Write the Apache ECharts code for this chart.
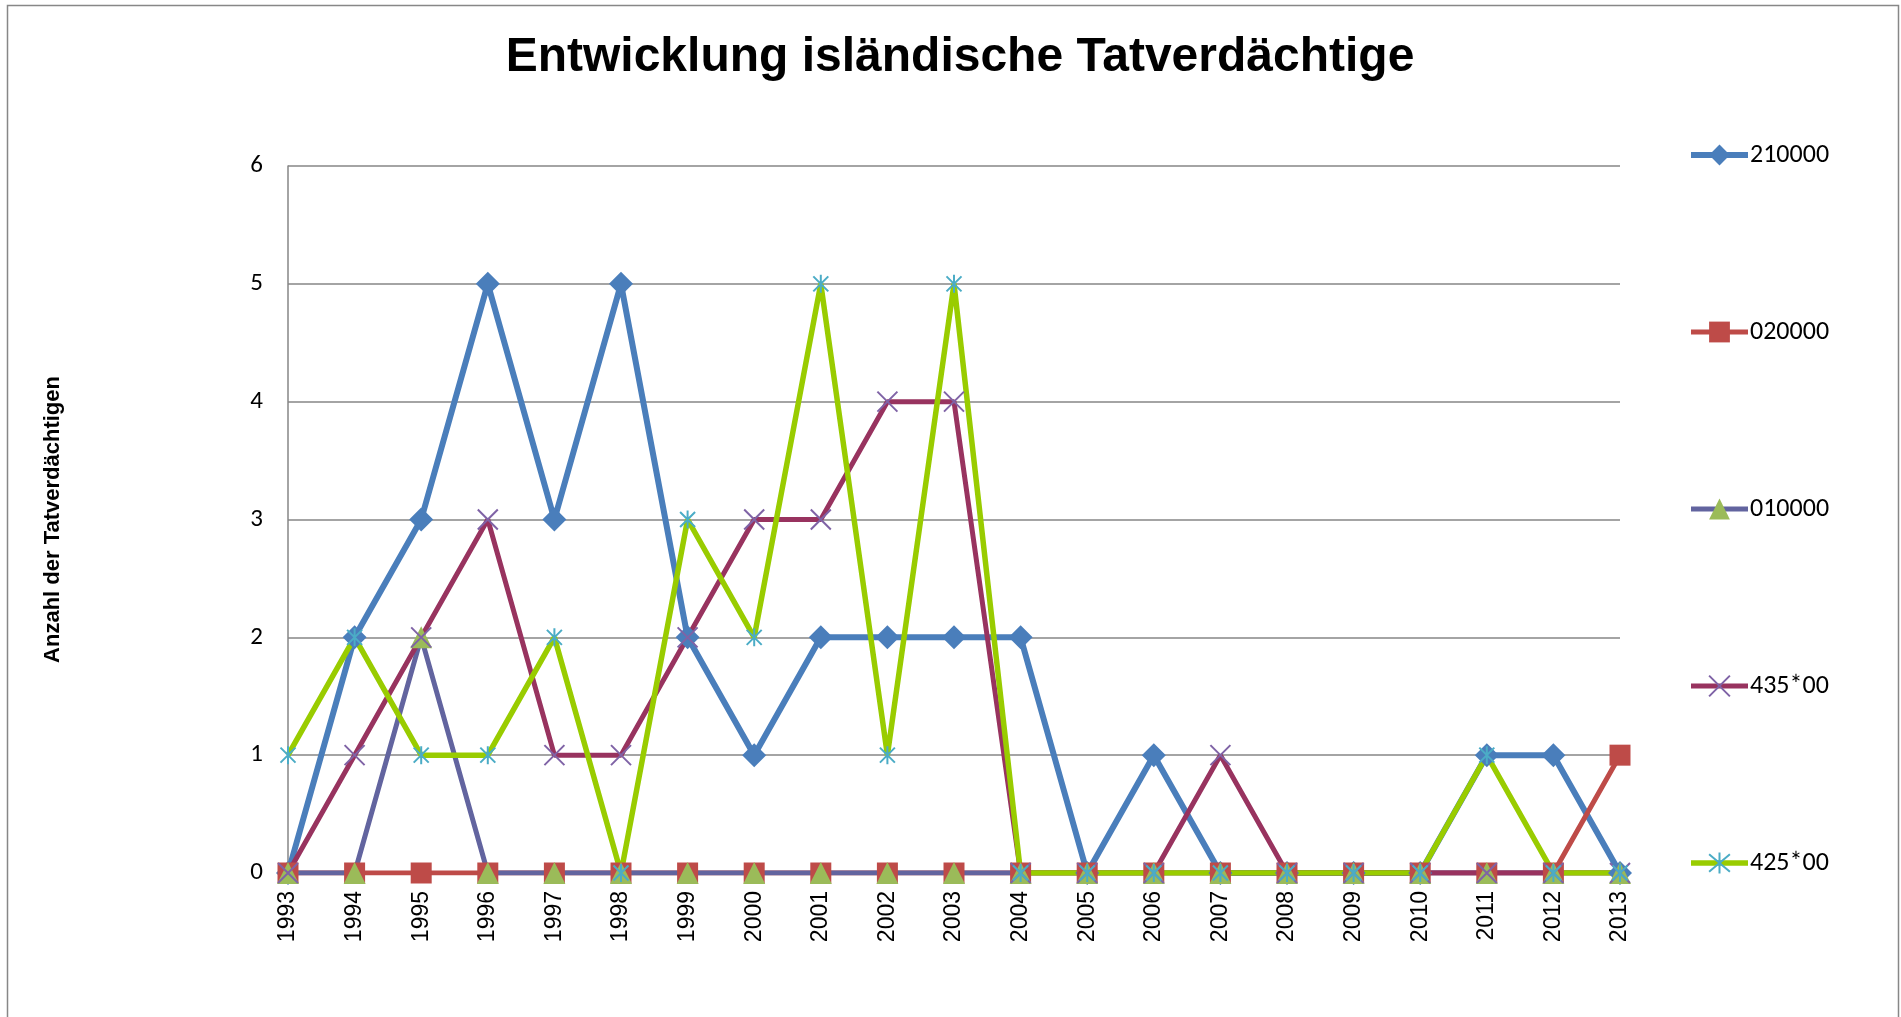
<!DOCTYPE html>
<html>
<head>
<meta charset="utf-8">
<script src="https://cdn.jsdelivr.net/npm/echarts@6/dist/echarts.min.js"></script>
<style>
  html, body { margin: 0; padding: 0; background: #fff; }
  #main { width: 1901px; height: 1017px; }
</style>
</head>
<body>
<div id="main"></div>
<script>
var years = ['1993', '1994', '1995', '1996', '1997', '1998', '1999', '2000', '2001', '2002', '2003',
  '2004', '2005', '2006', '2007', '2008', '2009', '2010', '2011', '2012', '2013']
var yTicks = [0, 1, 2, 3, 4, 5, 6]

var s210000 = [0, 2, 3, 5, 3, 5, 2, 1, 2, 2, 2, 2, 0, 1, 0, 0, 0, 0, 1, 1, 0]
var s020000 = [0, 0, 0, 0, 0, 0, 0, 0, 0, 0, 0, 0, 0, 0, 0, 0, 0, 0, 0, 0, 1]
var s010000 = [0, 0, 2, 0, 0, 0, 0, 0, 0, 0, 0, 0, 0, 0, 0, 0, 0, 0, 0, 0, 0]
var s435 = [0, 1, 2, 3, 1, 1, 2, 3, 3, 4, 4, 0, 0, 0, 1, 0, 0, 0, 0, 0, 0]
var s425 = [1, 2, 1, 1, 2, 0, 3, 2, 5, 1, 5, 0, 0, 0, 0, 0, 0, 0, 1, 0, 0]

var crossPath = 'path://M0,0L10,10M10,0L0,10'
var starPath = 'path://M0,0L10,10M10,0L0,10M5,-1L5,11'

var labelFont = "Carlito, 'Open Sans', sans-serif"

function mkSeries(name, data, lineColor, symbol, size, fill, stroke, width) {
  var item = { color: fill }
  if (stroke) {
    item = { color: 'none', borderColor: stroke, borderWidth: 2 }
  }
  return {
    name: name,
    type: 'line',
    data: data,
    symbol: symbol,
    symbolSize: size,
    symbolKeepAspect: true,
    showAllSymbol: true,
    lineStyle: { color: lineColor, width: width },
    itemStyle: item,
    emphasis: { disabled: true },
    animation: false
  }
}

var chart = echarts.init(document.getElementById('main'))

var option = {
  backgroundColor: '#ffffff',
  animation: false,
  title: {
    text: 'Entwicklung isländische Tatverdächtige',
    left: 955,
    textAlign: 'center',
    top: 29,
    textStyle: {
      fontFamily: "'Liberation Sans', Arial, sans-serif",
      fontSize: 48,
      fontWeight: 'bold',
      color: '#000'
    }
  },
  graphic: [{
    type: 'rect',
    shape: { x: 7.5, y: 5.5, width: 1891, height: 1030 },
    style: { fill: 'none', stroke: '#878787', lineWidth: 1.5 },
    silent: true
  }],
  legend: {
    orient: 'vertical',
    left: 1683,
    top: 137,
    padding: 5,
    itemWidth: 57,
    itemHeight: 26,
    itemGap: 151,
    lineStyle: { width: 'inherit' },
    textStyle: {
      fontFamily: labelFont,
      fontSize: 26,
      color: '#000',
      padding: [0, 0, 0, -3]
    },
    data: ['210000', '020000', '010000', '435*00', '425*00']
  },
  grid: {
    left: 288,
    right: 281,
    top: 166,
    bottom: 144
  },
  xAxis: {
    type: 'category',
    data: years,
    boundaryGap: false,
    axisLine: { lineStyle: { color: '#868686', width: 1.5 } },
    axisTick: { show: false },
    axisLabel: {
      rotate: 90,
      margin: 18,
      fontFamily: "'Liberation Sans', Arial, sans-serif",
      fontSize: 23,
      color: '#000'
    },
    splitLine: { show: false }
  },
  yAxis: {
    type: 'value',
    min: yTicks[0],
    max: yTicks[yTicks.length - 1],
    interval: 1,
    name: 'Anzahl der Tatverdächtigen',
    nameLocation: 'middle',
    nameGap: 224,
    nameTextStyle: {
      fontFamily: "'Liberation Sans', Arial, sans-serif",
      fontSize: 22,
      fontWeight: 'bold',
      color: '#000'
    },
    axisLine: { show: true, lineStyle: { color: '#868686', width: 1.5 } },
    axisTick: { show: false },
    axisLabel: {
      margin: 25,
      fontFamily: labelFont,
      fontSize: 25,
      color: '#000'
    },
    splitLine: { lineStyle: { color: '#868686', width: 1.5 } }
  },
  series: [
    mkSeries('210000', s210000, '#4A7EBB', 'diamond', 24, '#4A7EBB', null, 6),
    mkSeries('020000', s020000, '#BE4B48', 'rect', 21, '#BE4B48', null, 5),
    mkSeries('010000', s010000, '#62649F', 'triangle', 22, '#9BBB59', null, 5),
    mkSeries('435*00', s435, '#98335F', crossPath, 20, null, '#7F63A6', 5),
    mkSeries('425*00', s425, '#99CC00', starPath, 18, null, '#4BACC6', 5.5)
  ]
}

chart.setOption(option)
</script>
</body>
</html>
